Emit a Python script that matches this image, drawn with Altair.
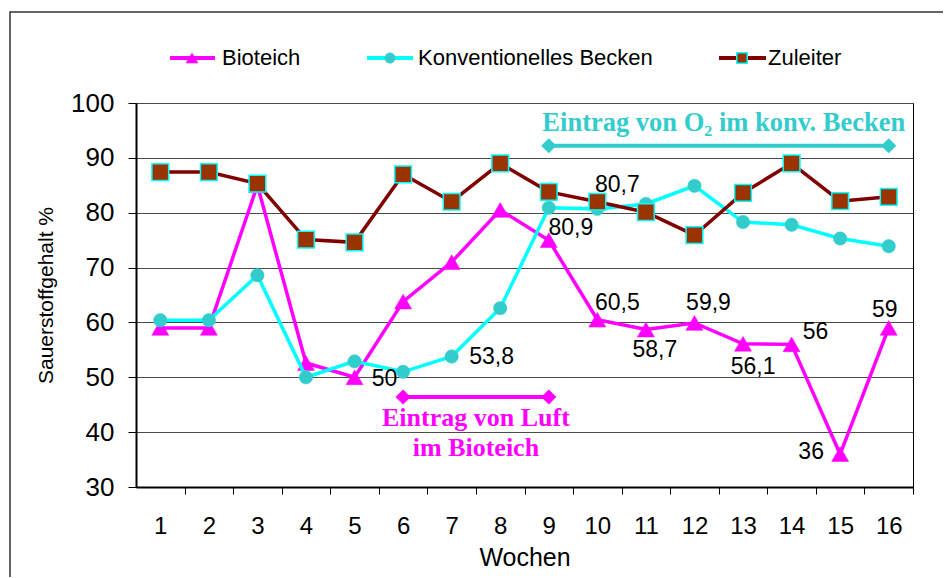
import altair as alt
import pandas as pd

# ---------------- data ----------------
weeks = list(range(1, 17))
series_names = ["Bioteich", "Konventionelles Becken", "Zuleiter"]
bioteich = [59, 59, 85, 52.6, 50, 63.8, 71, 80.5, 75, 60.5, 58.7, 59.9, 56.1, 56, 36, 59]
konventionell = [60.4, 60.4, 68.6, 50, 52.9, 51, 53.8, 62.6, 80.9, 80.7, 81.6, 84.9, 78.3, 77.8, 75.3, 73.9]
zuleiter = [87.4, 87.4, 85.3, 75.1, 74.6, 87.0, 82.0, 89.0, 83.8, 82.0, 80.1, 75.9, 83.6, 89.0, 82.1, 82.9]

y_ticks = [30, 40, 50, 60, 70, 80, 90, 100]

label_weeks = [5, 7, 9, 10, 10, 11, 12, 13, 14, 15, 16]
label_values = [50, 53.8, 80.9, 80.7, 60.5, 58.7, 59.9, 56.1, 56, 36, 59]
label_texts = ["50", "53,8", "80,9", "80,7", "60,5", "58,7", "59,9", "56,1", "56", "36", "59"]

luft_weeks = [6, 9]
luft_level = 46.4
luft_text = ["Eintrag von Luft", "im Bioteich"]
o2_weeks = [9, 16]
o2_level = 92.2
o2_text = "Eintrag von O\u2082 im konv. Becken"

# ---------------- style ----------------
W, H = 777, 384
STEP = W / 16
SANS = "Liberation Sans"
SERIF = "Liberation Serif"
MAGENTA = "#FF00FF"
CYAN = "#00FFFF"
TEAL = "#33CCCC"
MAROON = "#800000"
BROWN = "#993300"

label_dx = [30, 40, 22, 20, 20, 9, 14, 10, 24, -29, -4]
label_dy = [2, 1, 20, -24, -17, 20, -20, 23, -12, -2, -18]

xscale = alt.Scale(domain=[0.5, 16.5], nice=False, zero=False)
yscale = alt.Scale(domain=[30, 100], nice=False, zero=False)

x_enc = alt.X(
    "week:Q", scale=xscale,
    axis=alt.Axis(values=weeks, tickOffset=STEP / 2, labelOffset=-STEP / 2,
                  grid=False, title="Wochen", tickSize=7, tickColor="black",
                  domainColor="black", domainWidth=2, labelFontSize=24,
                  labelPadding=20, titleFontSize=25, titlePadding=7,
                  labelAngle=0, format="d"),
)
y_enc = alt.Y(
    "value:Q", scale=yscale,
    axis=alt.Axis(values=y_ticks, grid=True, gridColor="#4a4a4a", gridWidth=1,
                  title="Sauerstoffgehalt %", tickSize=8, tickColor="black",
                  domainColor="black", domainWidth=2, labelFontSize=26,
                  labelPadding=14, titleFontSize=21, titlePadding=14),
)

layers = []

# outer frame
layers.append(
    alt.Chart(pd.DataFrame({"a": [0]})).mark_rect(filled=False, color="#333333", strokeWidth=1.5)
    .encode(x=alt.value(-126), x2=alt.value(900), y=alt.value(-91), y2=alt.value(600))
)


def series(vals, line_color, shape, fill, stroke, size, sw):
    d = pd.DataFrame({"week": weeks, "value": vals})
    line = alt.Chart(d).mark_line(color=line_color, strokeWidth=3.5).encode(x=x_enc, y=y_enc)
    pts = alt.Chart(d).mark_point(shape=shape, filled=True, color=fill, stroke=stroke,
                                  strokeWidth=sw, size=size, opacity=1).encode(x=x_enc, y=y_enc)
    return [line, pts]


layers += series(bioteich, MAGENTA, "triangle-up", MAGENTA, MAGENTA, 290, 0.5)
layers += series(konventionell, CYAN, "circle", TEAL, TEAL, 180, 0.5)
layers += series(zuleiter, MAROON, "square", BROWN, CYAN, 280, 1.5)

# range annotations
def range_ann(wk, level, color):
    d = pd.DataFrame({"week": wk, "value": [level] * len(wk)})
    ln = alt.Chart(d).mark_line(color=color, strokeWidth=4).encode(x=x_enc, y=y_enc)
    pt = alt.Chart(d).mark_point(shape="diamond", filled=True, color=color, size=230, opacity=1).encode(x=x_enc, y=y_enc)
    return [ln, pt]


layers += range_ann(luft_weeks, luft_level, MAGENTA)
layers += range_ann(o2_weeks, o2_level, TEAL)

luft_mid = pd.DataFrame({"week": [sum(luft_weeks) / 2], "value": [luft_level]})
for i, t in enumerate(luft_text):
    layers.append(
        alt.Chart(luft_mid).mark_text(text=t, font=SERIF, fontWeight="bold", fontSize=26,
                                      color=MAGENTA, align="center", baseline="middle",
                                      dy=21 + 30 * i)
        .encode(x=x_enc, y=y_enc)
    )
o2_mid = pd.DataFrame({"week": [sum(o2_weeks) / 2], "value": [o2_level]})
layers.append(
    alt.Chart(o2_mid).mark_text(text=o2_text, font=SERIF, fontWeight="bold", fontSize=26.5,
                                color=TEAL, align="center", baseline="middle", dx=5, dy=-23)
    .encode(x=x_enc, y=y_enc)
)

# data labels
for w, v, t, dx, dy in zip(label_weeks, label_values, label_texts, label_dx, label_dy):
    d = pd.DataFrame({"week": [w], "value": [v], "t": [t]})
    layers.append(
        alt.Chart(d).mark_text(font=SANS, fontSize=23, color="black", align="center",
                               baseline="middle", dx=dx, dy=dy)
        .encode(x=x_enc, y=y_enc, text="t:N")
    )

# legend (manual)
LY = -45
legend_style = [
    # line color, shape, fill, stroke, size, sw, x0, x1, xm, xt
    (MAGENTA, "triangle-up", MAGENTA, MAGENTA, 140, 0.5, 34, 79, 56, 86),
    (CYAN, "circle", TEAL, TEAL, 110, 0.5, 231, 277, 254, 282),
    (MAROON, "square", BROWN, CYAN, 110, 1.5, 583, 630, 606, 632),
]
for name, (lc, shp, fl, st, sz, sw, x0, x1, xm, xt) in zip(series_names, legend_style):
    d = pd.DataFrame({"name": [name]})
    layers.append(alt.Chart(d).mark_rule(color=lc, strokeWidth=4)
                  .encode(x=alt.value(x0), x2=alt.value(x1), y=alt.value(LY)))
    layers.append(alt.Chart(d).mark_point(shape=shp, filled=True, color=fl, stroke=st,
                                          strokeWidth=sw, size=sz, opacity=1)
                  .encode(x=alt.value(xm), y=alt.value(LY)))
    layers.append(alt.Chart(d).mark_text(font=SANS, fontSize=22, align="left", baseline="middle",
                                         color="black")
                  .encode(x=alt.value(xt), y=alt.value(LY), text="name:N"))

chart = (
    alt.layer(*layers)
    .properties(width=W, height=H, padding={"left": 128, "top": 95, "right": 30, "bottom": 90},
                autosize=alt.AutoSizeParams(type="none"), background="white")
    .configure_view(stroke="black", strokeWidth=1)
    .configure_axis(labelFont=SANS, titleFont=SANS, titleFontWeight="normal",
                    labelColor="black", titleColor="black")
)

chart.save("out.html", embed_options={"renderer": "svg", "actions": False})
